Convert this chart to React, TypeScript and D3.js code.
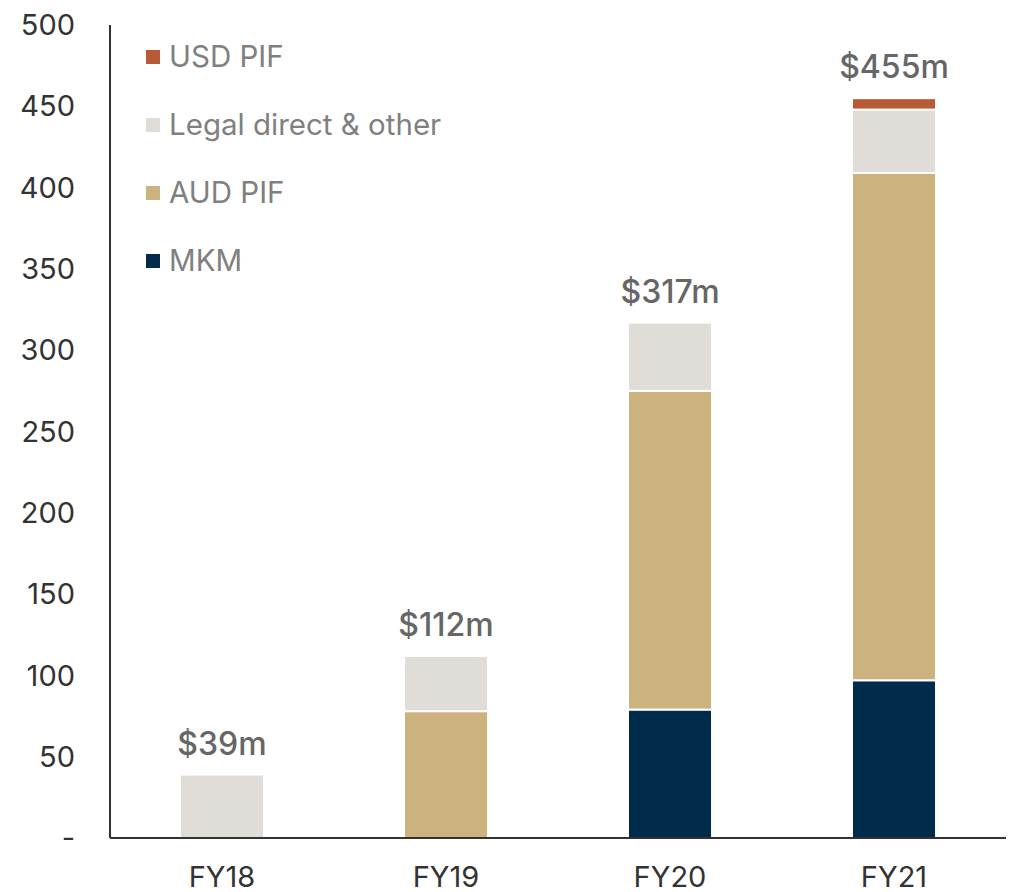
import React from "react";
import * as d3 from "d3";

const categories = ["FY18", "FY19", "FY20", "FY21"];
const seriesNames = ["MKM", "AUD PIF", "Legal direct & other", "USD PIF"];
const mkm = [0, 0, 79, 97];
const audPif = [0, 78, 196, 312];
const legal = [39, 34, 42, 39];
const usdPif = [0, 0, 0, 7];
const totalLabels = ["$39m", "$112m", "$317m", "$455m"];
const yTicks = [0, 50, 100, 150, 200, 250, 300, 350, 400, 450, 500];
const legendOrder = ["USD PIF", "Legal direct & other", "AUD PIF", "MKM"];
const colors: Record<string, string> = {
  "MKM": "#002B4A",
  "AUD PIF": "#CBB27F",
  "Legal direct & other": "#E0DDD8",
  "USD PIF": "#B85A36",
};

export default function App() {
  const W = 1011, H = 892;
  const left = 110, right = 1006, top = 25, bottom = 838;
  const font = "Inter, 'Open Sans', sans-serif";

  const rows = categories.map((c, i) => ({
    cat: c,
    "MKM": mkm[i],
    "AUD PIF": audPif[i],
    "Legal direct & other": legal[i],
    "USD PIF": usdPif[i],
  }));
  const stack = d3.stack<any>().keys(seriesNames)(rows);

  const x = d3.scaleBand().domain(categories).range([left, right]).paddingInner(0.625).paddingOuter(0.3125);
  const y = d3.scaleLinear().domain([0, 500]).range([bottom, top]);

  const totals = categories.map((_, i) => mkm[i] + audPif[i] + legal[i] + usdPif[i]);

  return (
    <svg width={W} height={H} style={{ position: "absolute", left: 0, top: 0, background: "#fff" }} fontFamily={font}>
      {stack.map((s) => (
        <g key={s.key} fill={colors[s.key]}>
          {s.map((d, i) =>
            d[1] - d[0] > 0 ? (
              <rect
                key={i}
                x={x(categories[i])!}
                y={y(d[1])}
                width={x.bandwidth()}
                height={y(d[0]) - y(d[1])}
                stroke="#fff"
                strokeWidth={2}
              />
            ) : null
          )}
        </g>
      ))}
      <line x1={left} x2={left} y1={top} y2={bottom} stroke="#333" strokeWidth={2} />
      <line x1={left} x2={right} y1={bottom} y2={bottom} stroke="#333" strokeWidth={2} />
      {yTicks.map((t) => (
        <text key={t} x={75} y={y(t)} dy="0.35em" textAnchor="end" fontSize={29} fill="#333">
          {t === 0 ? "-" : t}
        </text>
      ))}
      {categories.map((c) => (
        <text key={c} x={x(c)! + x.bandwidth() / 2} y={877} dy="0.35em" textAnchor="middle" fontSize={29} fill="#333">
          {c}
        </text>
      ))}
      {categories.map((c, i) => (
        <text key={c} x={x(c)! + x.bandwidth() / 2} y={y(totals[i]) - 20} textAnchor="middle" fontSize={32} fontWeight={500} fill="#666">
          {totalLabels[i]}
        </text>
      ))}
      {legendOrder.map((k, i) => (
        <g key={k} transform={`translate(146, ${57 + i * 68})`}>
          <rect x={0} y={-7} width={14} height={14} fill={colors[k]} />
          <text x={23} y={0} dy="0.35em" fontSize={29.5} fill="#808080">
            {k}
          </text>
        </g>
      ))}
    </svg>
  );
}
